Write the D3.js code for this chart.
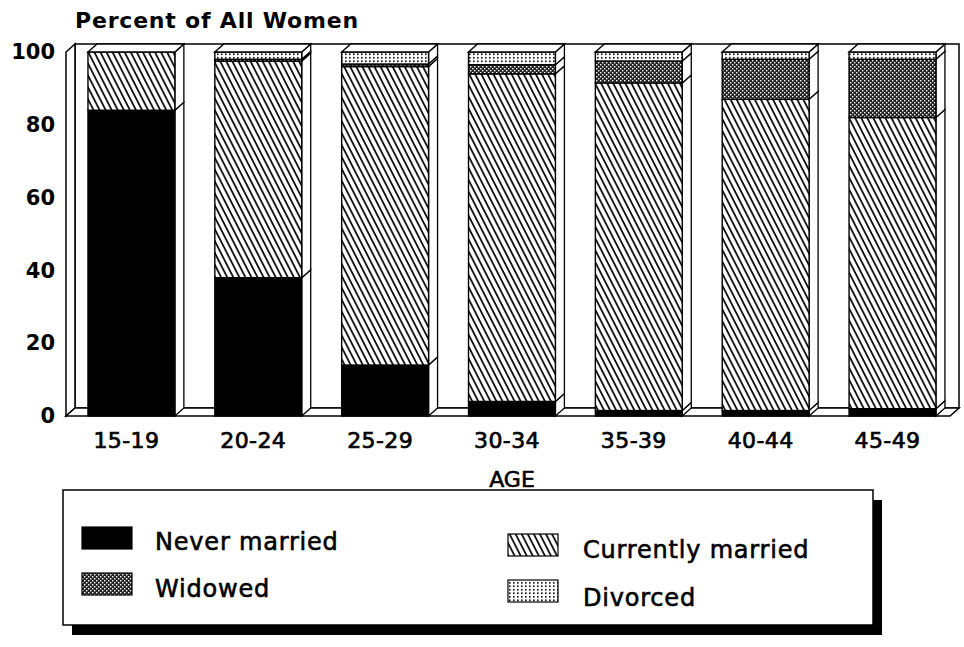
<!DOCTYPE html>
<html>
<head>
<meta charset="utf-8">
<script src="https://cdn.jsdelivr.net/npm/d3@7"></script>
<style>
  body { margin: 0; background: #fff; }
  svg { display: block; }
  text { font-family: "DejaVu Sans", sans-serif; fill: #000; }
</style>
</head>
<body>
<svg id="chart" width="964" height="647"></svg>
<script>
// data (percent of all women)
var ageGroups = ["15-19", "20-24", "25-29", "30-34", "35-39", "40-44", "45-49"];
var neverMarried     = [84, 38, 14, 4, 1.5, 1.5, 2];
var currentlyMarried = [16, 59.5, 82, 90, 90, 85.5, 80];
var widowed          = [0, 0.5, 0.7, 2.5, 6, 11, 16];
var divorced         = [0, 2, 3.3, 3.5, 2.5, 2, 2];
var yTicks = [0, 20, 40, 60, 80, 100];

var keys = ["never", "married", "widowed", "divorced"];
var legendLabels = ["Never married", "Currently married", "Widowed", "Divorced"];

var rows = ageGroups.map(function(g, i) {
  return {age: g, never: neverMarried[i], married: currentlyMarried[i],
          widowed: widowed[i], divorced: divorced[i]};
});

var svg = d3.select('#chart');

// 3d depth of the bars / walls
var dx = 9, dy = -8;
var x0 = 66, x1 = 950;

var xScale = d3.scaleBand()
  .domain(ageGroups)
  .range([x0, x1])
  .paddingInner(0.315)
  .paddingOuter(0.142)
  .align(0.61);

var yScale = d3.scaleLinear()
  .domain([0, 100])
  .range([416, 52]);

// fill patterns
var defs = svg.append('defs');

var hatch = defs.append('pattern')
  .attr('id', 'hatch')
  .attr('patternUnits', 'userSpaceOnUse')
  .attr('width', 5.4).attr('height', 10)
  .attr('patternTransform', 'rotate(-27)');
hatch.append('rect').attr('width', 5.4).attr('height', 10).attr('fill', '#fff');
hatch.append('line').attr('x1', 1).attr('y1', 0).attr('x2', 1).attr('y2', 10)
  .attr('stroke', '#000').attr('stroke-width', 1.7);

var check = defs.append('pattern')
  .attr('id', 'check')
  .attr('patternUnits', 'userSpaceOnUse')
  .attr('width', 4).attr('height', 4);
check.append('rect').attr('width', 4).attr('height', 4).attr('fill', '#222');
check.append('rect').attr('x', 0).attr('y', 0).attr('width', 1.4).attr('height', 1.4).attr('fill', '#fff');
check.append('rect').attr('x', 2).attr('y', 2).attr('width', 1.4).attr('height', 1.4).attr('fill', '#fff');

var dots = defs.append('pattern')
  .attr('id', 'dots')
  .attr('patternUnits', 'userSpaceOnUse')
  .attr('width', 4).attr('height', 3.5);
dots.append('rect').attr('width', 4).attr('height', 3.5).attr('fill', '#fff');
dots.append('rect').attr('x', 1).attr('y', 1).attr('width', 1.6).attr('height', 1.6).attr('fill', '#000');

var fills = {never: '#000', married: 'url(#hatch)', widowed: 'url(#check)', divorced: 'url(#dots)'};

var y0 = yScale(0), yTop = yScale(100);

// back wall
svg.append('rect')
  .attr('x', x0 + dx).attr('y', yTop + dy)
  .attr('width', x1 - x0).attr('height', y0 - yTop)
  .attr('fill', '#fff').attr('stroke', '#000').attr('stroke-width', 1.5);

// left wall
svg.append('polygon')
  .attr('points', [[x0, y0], [x0, yTop], [x0 + dx, yTop + dy], [x0 + dx, y0 + dy]].join(' '))
  .attr('fill', '#fff').attr('stroke', '#000').attr('stroke-width', 1.5);

// floor
svg.append('polygon')
  .attr('points', [[x0, y0], [x1, y0], [x1 + dx, y0 + dy], [x0 + dx, y0 + dy]].join(' '))
  .attr('fill', '#fff').attr('stroke', '#000').attr('stroke-width', 1.5);

// stacked bars
var series = d3.stack().keys(keys)(rows);
var bw = xScale.bandwidth();

series.forEach(function(s) {
  var g = svg.append('g').attr('class', 'series-' + s.key);
  s.forEach(function(d) {
    if (d[1] - d[0] <= 0) return;
    var x = xScale(d.data.age);
    var yb = yScale(d[0]), yt = yScale(d[1]);
    // side face
    g.append('polygon')
      .attr('points', [[x + bw, yb], [x + bw, yt], [x + bw + dx, yt + dy], [x + bw + dx, yb + dy]].join(' '))
      .attr('fill', '#fff').attr('stroke', '#000').attr('stroke-width', 1.3);
    // front face
    g.append('rect')
      .attr('x', x).attr('y', yt)
      .attr('width', bw).attr('height', yb - yt)
      .attr('fill', fills[s.key])
      .attr('stroke', '#000').attr('stroke-width', 1.4);
  });
});

// top faces
svg.selectAll('.top')
  .data(rows)
  .enter()
  .append('polygon')
  .attr('class', 'top')
  .attr('points', function(d) {
    var x = xScale(d.age);
    return [[x, yTop], [x + bw, yTop], [x + bw + dx, yTop + dy], [x + dx, yTop + dy]].join(' ');
  })
  .attr('fill', '#fff').attr('stroke', '#000').attr('stroke-width', 1.4);

// axes
var yAxis = d3.axisLeft(yScale).tickValues(yTicks).tickSize(0).tickPadding(4);
var gy = svg.append('g')
  .attr('transform', 'translate(59,0)')
  .call(yAxis);
gy.select('.domain').remove();
gy.selectAll('text')
  .style('font-family', '"DejaVu Sans", sans-serif')
  .style('font-size', '21px')
  .style('font-weight', 'bold');

var xAxis = d3.axisBottom(xScale).tickSize(0).tickPadding(16);
var gx = svg.append('g')
  .attr('transform', 'translate(-5,' + y0 + ')')
  .call(xAxis);
gx.select('.domain').remove();
gx.selectAll('text')
  .style('font-family', '"DejaVu Sans", sans-serif')
  .style('font-size', '22px')
  .style('letter-spacing', '0.4px')
  .style('stroke', '#000').style('stroke-width', '0.7px');

svg.append('text')
  .attr('x', 75).attr('y', 28)
  .style('font-size', '22px').style('font-weight', 'bold')
  .style('letter-spacing', '0.8px')
  .text('Percent of All Women');

svg.append('text')
  .attr('x', 512).attr('y', 487)
  .attr('text-anchor', 'middle')
  .style('font-size', '22px')
  .style('stroke', '#000').style('stroke-width', '0.6px')
  .text('AGE');

// legend box with drop shadow
var lg = {x: 63, y: 490, w: 810, h: 135};
svg.append('rect')
  .attr('x', lg.x + 9).attr('y', lg.y + 10)
  .attr('width', lg.w).attr('height', lg.h)
  .attr('fill', '#000');
svg.append('rect')
  .attr('x', lg.x).attr('y', lg.y)
  .attr('width', lg.w).attr('height', lg.h)
  .attr('fill', '#fff').attr('stroke', '#000').attr('stroke-width', 1.5);

var legendPos = [
  {sx: 82, sy: 527, tx: 155, ty: 550},
  {sx: 508, sy: 534, tx: 583, ty: 558},
  {sx: 82, sy: 573, tx: 155, ty: 597},
  {sx: 508, sy: 580, tx: 583, ty: 606}
];

var items = svg.selectAll('.legend-item')
  .data(keys)
  .enter()
  .append('g')
  .attr('class', 'legend-item');

items.append('rect')
  .attr('x', function(d, i) { return legendPos[i].sx; })
  .attr('y', function(d, i) { return legendPos[i].sy; })
  .attr('width', 50).attr('height', 22)
  .attr('fill', function(d) { return fills[d]; })
  .attr('stroke', '#000').attr('stroke-width', 1.2);

items.append('text')
  .attr('x', function(d, i) { return legendPos[i].tx; })
  .attr('y', function(d, i) { return legendPos[i].ty; })
  .style('font-size', '24px')
  .style('letter-spacing', '0.8px')
  .style('stroke', '#000').style('stroke-width', '0.6px')
  .text(function(d, i) { return legendLabels[i]; });
</script>
</body>
</html>
